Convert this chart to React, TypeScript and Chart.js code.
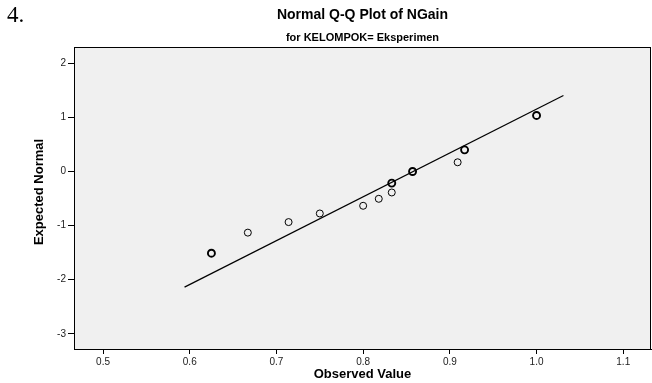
import React, { useEffect, useRef } from "react";
import { Chart, registerables } from "chart.js";
Chart.register(...registerables);

const observedValues = [0.625, 0.667, 0.714, 0.75, 0.8, 0.818, 0.833, 0.833, 0.857, 0.909, 0.917, 1.0];
const expectedNormal = [-1.51, -1.13, -0.935, -0.776, -0.634, -0.505, -0.388, -0.215, 0.0, 0.17, 0.4, 1.035];
const tieCounts = [2, 1, 1, 1, 1, 1, 1, 2, 2, 1, 2, 2];
const lineX = [0.594, 1.031];
const lineY = [-2.137, 1.405];
const xTickValues = [0.5, 0.6, 0.7, 0.8, 0.9, 1.0, 1.1];
const yTickValues = [-3, -2, -1, 0, 1, 2];

const mainTitle = "Normal Q-Q Plot of NGain";
const subTitle = "for KELOMPOK= Eksperimen";
const xTitle = "Observed Value";
const yTitle = "Expected Normal";
const prefix = "4.";

const SANS = "Arial, 'Liberation Sans', sans-serif";

const framePlugin = {
  id: "frame",
  beforeDraw(chart: any) {
    const { ctx, chartArea: a } = chart;
    ctx.save();
    ctx.fillStyle = "#f0f0f0";
    ctx.fillRect(a.left, a.top, a.right - a.left, a.bottom - a.top);
    ctx.restore();
  },
  afterDraw(chart: any) {
    const { ctx, chartArea: a } = chart;
    ctx.save();
    ctx.strokeStyle = "#000";
    ctx.lineWidth = 1;
    ctx.strokeRect(a.left + 0.5, a.top + 0.5, a.right - a.left - 1, a.bottom - a.top);
    const cx = (a.left + a.right) / 2;
    ctx.fillStyle = "#000";
    ctx.textAlign = "center";
    ctx.textBaseline = "middle";
    ctx.font = `bold 14px ${SANS}`;
    ctx.fillText(mainTitle, cx, 15);
    ctx.font = `bold 11px ${SANS}`;
    ctx.fillText(subTitle, cx, 38);
    ctx.font = `bold 13px ${SANS}`;
    ctx.fillText(xTitle, cx, 374);
    ctx.save();
    ctx.translate(39, 192);
    ctx.rotate(-Math.PI / 2);
    ctx.fillText(yTitle, 0, 0);
    ctx.restore();
    ctx.font = `23px 'Liberation Serif', 'DejaVu Serif', serif`;
    ctx.textAlign = "left";
    ctx.fillText(prefix, 7, 16);
    ctx.restore();
  },
};

export default function App() {
  const ref = useRef<HTMLCanvasElement | null>(null);
  useEffect(() => {
    if (!ref.current) return;
    const chart = new Chart(ref.current, {
      type: "scatter",
      data: {
        datasets: [
          {
            label: "Observed",
            data: observedValues.map((x, i) => ({ x, y: expectedNormal[i] })),
            pointStyle: "circle",
            pointRadius: 3.5,
            pointBorderColor: "#000",
            pointBackgroundColor: "rgba(0,0,0,0)",
            pointBorderWidth: tieCounts.map((c) => (c > 1 ? 1.9 : 1)),
            showLine: false,
          } as any,
          {
            label: "Line",
            data: lineX.map((x, i) => ({ x, y: lineY[i] })),
            showLine: true,
            borderColor: "#000",
            borderWidth: 1.2,
            pointRadius: 0,
          } as any,
        ],
      },
      options: {
        animation: false,
        responsive: false,
        layout: { autoPadding: false, padding: { top: 47, right: 1, left: 0, bottom: 0 } },
        plugins: { legend: { display: false }, tooltip: { enabled: false }, title: { display: false } },
        scales: {
          x: {
            type: "linear",
            min: 0.4665,
            max: 1.132,
            afterFit(s: any) {
              s.height = 34;
              s.paddingLeft = 0;
              s.paddingRight = 0;
            },
            afterBuildTicks(s: any) {
              s.ticks = xTickValues.map((v) => ({ value: v }));
            },
            grid: { drawOnChartArea: false, drawTicks: true, tickLength: 5, color: "#000" },
            border: { display: true, color: "#000" },
            ticks: {
              padding: 2,
              color: "#222",
              font: { family: SANS, size: 10 },
              callback: (v: any) => Number(v).toFixed(1),
            },
          },
          y: {
            type: "linear",
            min: -3.28,
            max: 2.3,
            afterFit(s: any) {
              s.width = 74;
              s.paddingTop = 0;
              s.paddingBottom = 0;
            },
            afterBuildTicks(s: any) {
              s.ticks = yTickValues.map((v) => ({ value: v }));
            },
            grid: { drawOnChartArea: false, drawTicks: true, tickLength: 6, color: "#000" },
            border: { display: true, color: "#000" },
            ticks: {
              padding: 2,
              color: "#222",
              font: { family: SANS, size: 10 },
              callback: (v: any) => String(v),
            },
          },
        },
      },
      plugins: [framePlugin],
    });
    return () => chart.destroy();
  }, []);
  return (
    <div style={{ position: "fixed", left: 0, top: 0, width: 652, height: 383, background: "#fff" }}>
      <canvas ref={ref} width={652} height={383} style={{ display: "block" }} />
    </div>
  );
}
